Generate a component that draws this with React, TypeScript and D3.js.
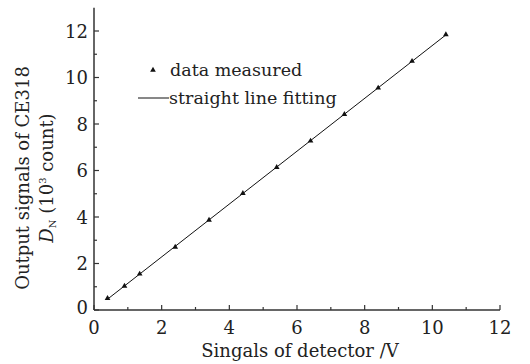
import React from "react";
import * as d3 from "d3";

const xData = [0.4, 0.9, 1.35, 2.4, 3.4, 4.4, 5.4, 6.4, 7.4, 8.4, 9.4, 10.4];
const yData = [0.5, 1.03, 1.55, 2.71, 3.87, 5.02, 6.14, 7.27, 8.42, 9.55, 10.7, 11.85];
const xTicks = [0, 2, 4, 6, 8, 10, 12];
const yTicks = [0, 2, 4, 6, 8, 10, 12];
const xMinor = [1, 3, 5, 7, 9, 11];
const yMinor = [1, 3, 5, 7, 9, 11];

const FONT = "'DejaVu Serif', serif";

export default function App() {
  const W = 530, H = 364;
  const x = d3.scaleLinear().domain([0, 12]).range([94, 500]);
  const y = d3.scaleLinear().domain([0, 13]).range([310, 7.75]);

  // least-squares fit
  const n = xData.length;
  const mx = d3.mean(xData)!;
  const my = d3.mean(yData)!;
  let sxy = 0, sxx = 0;
  for (let i = 0; i < n; i++) {
    sxy += (xData[i] - mx) * (yData[i] - my);
    sxx += (xData[i] - mx) ** 2;
  }
  const slope = sxy / sxx;
  const intercept = my - slope * mx;
  const x0 = xData[0], x1 = xData[n - 1];
  const fitLine = d3.line<number>().x((d) => x(d)).y((d) => y(slope * d + intercept));

  const tri = d3.symbol().type(d3.symbolTriangle).size(14)();
  const ax = "#333";

  return (
    <svg width={W} height={H} style={{ position: "absolute", left: 0, top: 0, background: "#fff" }}>
      <rect width={W} height={H} fill="#fff" />
      {/* axes */}
      <line x1={x(0)} x2={x(0)} y1={y(0)} y2={y(13)} stroke={ax} strokeWidth={1.5} />
      <line x1={x(0)} x2={x(12)} y1={y(0)} y2={y(0)} stroke={ax} strokeWidth={1.5} />
      {xTicks.map((t) => (
        <g key={"xt" + t}>
          <line x1={x(t)} x2={x(t)} y1={y(0)} y2={y(0) - 5} stroke={ax} strokeWidth={1.2} />
          <text x={x(t)} y={334} textAnchor="middle" fontFamily={FONT} fontSize={18} fill="#222">{t}</text>
        </g>
      ))}
      {xMinor.map((t) => (
        <line key={"xm" + t} x1={x(t)} x2={x(t)} y1={y(0)} y2={y(0) - 3} stroke={ax} strokeWidth={1.2} />
      ))}
      {yTicks.map((t) => (
        <g key={"yt" + t}>
          <line x1={x(0)} x2={x(0) + 5} y1={y(t)} y2={y(t)} stroke={ax} strokeWidth={1.2} />
          <text x={88} y={t === 0 ? y(t) + 4 : y(t) + 6.5} textAnchor="end" fontFamily={FONT} fontSize={18} fill="#222">{t}</text>
        </g>
      ))}
      {yMinor.map((t) => (
        <line key={"ym" + t} x1={x(0)} x2={x(0) + 3} y1={y(t)} y2={y(t)} stroke={ax} strokeWidth={1.2} />
      ))}
      {/* fit line */}
      <path d={fitLine([x0, x1]) || ""} stroke="#111" strokeWidth={1} fill="none" />
      {/* points */}
      {xData.map((d, i) => (
        <path key={"p" + i} d={tri || ""} transform={`translate(${x(d)},${y(yData[i])})`} fill="#111" />
      ))}
      {/* legend */}
      <path d={tri || ""} transform="translate(153,70)" fill="#111" />
      <text x={170} y={76} fontFamily={FONT} fontSize={17.5} fill="#222">data measured</text>
      <line x1={138} x2={169} y1={98} y2={98} stroke="#111" strokeWidth={1} />
      <text x={169} y={104} fontFamily={FONT} fontSize={17.5} fill="#222">straight line fitting</text>
      {/* axis titles */}
      <text x={300} y={357} textAnchor="middle" fontFamily={FONT} fontSize={18} fill="#222">Singals of detector /V</text>
      <text transform="translate(29,178) rotate(-90)" textAnchor="middle" fontFamily={FONT} fontSize={18} fill="#222">Output signals of CE318</text>
      <text transform="translate(53,178) rotate(-90)" textAnchor="middle" fontFamily={FONT} fontSize={18} fill="#222">
        <tspan fontStyle="italic">D</tspan>
        <tspan fontSize={10} dy={3}>N</tspan>
        <tspan dy={-3}> (10</tspan>
        <tspan fontSize={10} dy={-7}>3</tspan>
        <tspan dy={7}> count)</tspan>
      </text>
    </svg>
  );
}
